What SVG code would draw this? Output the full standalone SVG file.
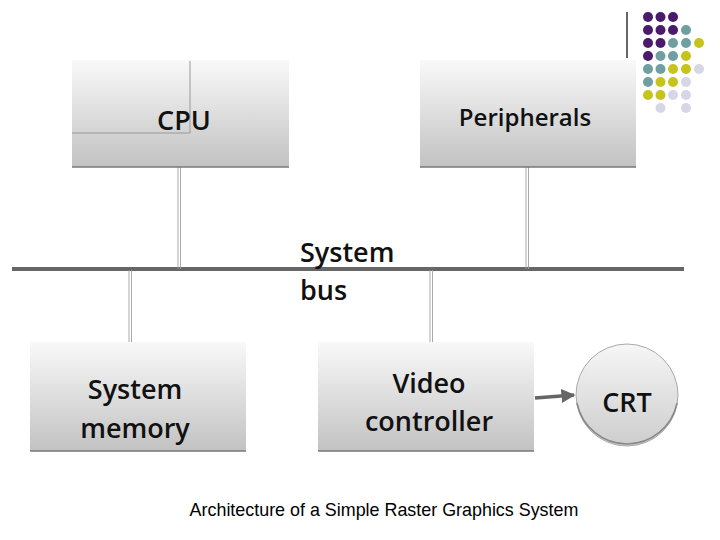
<svg xmlns="http://www.w3.org/2000/svg" width="720" height="540" viewBox="0 0 720 540">
<defs>
<linearGradient id="box" x1="0" y1="0" x2="0" y2="1">
<stop offset="0" stop-color="#f9f9f9"/>
<stop offset="1" stop-color="#c2c2c2"/>
</linearGradient>
<linearGradient id="circ" x1="0" y1="0" x2="0" y2="1">
<stop offset="0" stop-color="#f6f6f6"/>
<stop offset="1" stop-color="#cdcdcd"/>
</linearGradient>
<marker id="arr" viewBox="0 0 10 10" refX="9" refY="5" markerWidth="4" markerHeight="4" orient="auto" markerUnits="strokeWidth">
<path d="M0,0 L10,5 L0,10 z" fill="#666"/>
</marker>
</defs>
<style>
.lbl{font-family:"Open Sans","Noto Sans","Liberation Sans",sans-serif;font-weight:600;font-size:27px;fill:#111;text-anchor:middle}
.base{stroke:#777;stroke-width:1.5}
.wire{stroke:#a0a0a0;stroke-width:0.9;fill:none}
.pu{fill:#4a1a6b}.te{fill:#6f9fa1}.ye{fill:#c7c31d}.la{fill:#d6d6e6}
</style>
<rect width="720" height="540" fill="#fff"/>
<g id="decor">
<line x1="627" y1="12" x2="627" y2="58" stroke="#000" stroke-width="1.2"/>
<circle class="pu" cx="648" cy="17" r="5"/><circle class="pu" cx="660.5" cy="17" r="5"/><circle class="pu" cx="673" cy="17" r="5"/>
<circle class="pu" cx="648" cy="30" r="5"/><circle class="pu" cx="660.5" cy="30" r="5"/><circle class="pu" cx="673" cy="30" r="5"/><circle class="te" cx="686" cy="30" r="5"/>
<circle class="pu" cx="648" cy="43" r="5"/><circle class="pu" cx="660.5" cy="43" r="5"/><circle class="te" cx="673" cy="43" r="5"/><circle class="te" cx="686" cy="43" r="5"/><circle class="ye" cx="699" cy="43" r="5"/>
<circle class="pu" cx="648" cy="56" r="5"/><circle class="te" cx="660.5" cy="56" r="5"/><circle class="te" cx="673" cy="56" r="5"/><circle class="ye" cx="686" cy="56" r="5"/>
<circle class="te" cx="648" cy="69" r="5"/><circle class="te" cx="660.5" cy="69" r="5"/><circle class="ye" cx="673" cy="69" r="5"/><circle class="ye" cx="686" cy="69" r="5"/><circle class="la" cx="699" cy="69" r="5"/>
<circle class="te" cx="648" cy="82" r="5"/><circle class="ye" cx="660.5" cy="82" r="5"/><circle class="ye" cx="673" cy="82" r="5"/><circle class="la" cx="686" cy="82" r="5"/>
<circle class="ye" cx="648" cy="95" r="5"/><circle class="ye" cx="660.5" cy="95" r="5"/><circle class="la" cx="673" cy="95" r="5"/><circle class="la" cx="686" cy="95" r="5"/>
<circle class="la" cx="660.5" cy="108" r="5"/><circle class="la" cx="686" cy="108" r="5"/>
</g>
<g id="connectors">
<line x1="12" y1="269" x2="684" y2="269" stroke="#666" stroke-width="4"/>
<path class="wire" d="M178,167 V269 M180.5,167 V269"/>
<path class="wire" d="M526,167 V269 M528.5,167 V269"/>
<path class="wire" d="M129,270 V342 M131.5,270 V342"/>
<path class="wire" d="M430,270 V342 M432.5,270 V342"/>
<line x1="535" y1="398" x2="574" y2="395" stroke="#666" stroke-width="3.5" marker-end="url(#arr)"/>
</g>
<g id="cpu">
<rect x="72" y="60" width="217" height="107" fill="url(#box)"/>
<line x1="72" y1="167" x2="289" y2="167" class="base"/>
<path d="M190,61 V133 H72" fill="none" stroke="#999" stroke-width="1"/>
<text class="lbl" x="184" y="130">CPU</text>
</g>
<g id="peripherals">
<rect x="420" y="60" width="216" height="107" fill="url(#box)"/>
<line x1="420" y1="167" x2="636" y2="167" class="base"/>
<text class="lbl" style="font-size:24px" x="525" y="126">Peripherals</text>
</g>
<g id="bus-label">
<text class="lbl" style="text-anchor:start" x="300" y="262">System</text>
<text class="lbl" style="text-anchor:start" x="300" y="300">bus</text>
</g>
<g id="memory">
<rect x="30" y="342" width="216" height="109" fill="url(#box)"/>
<line x1="30" y1="451" x2="246" y2="451" class="base"/>
<text class="lbl" x="135" y="399">System</text>
<text class="lbl" x="135" y="438">memory</text>
</g>
<g id="video">
<rect x="318" y="342" width="216" height="109" fill="url(#box)"/>
<line x1="318" y1="451" x2="534" y2="451" class="base"/>
<text class="lbl" x="429" y="393">Video</text>
<text class="lbl" x="429" y="431">controller</text>
</g>
<g id="crt">
<circle cx="627" cy="395" r="51" fill="url(#circ)" stroke="#aaa" stroke-width="1"/>
<path d="M577,403 A51,51 0 0 0 677,403" fill="none" stroke="#888" stroke-width="1.5"/>
<text class="lbl" x="627" y="412">CRT</text>
</g>
<text x="384" y="516" font-family="Liberation Sans, Arial, sans-serif" font-size="17.9" fill="#000" text-anchor="middle">Architecture of a Simple Raster Graphics System</text>
</svg>
